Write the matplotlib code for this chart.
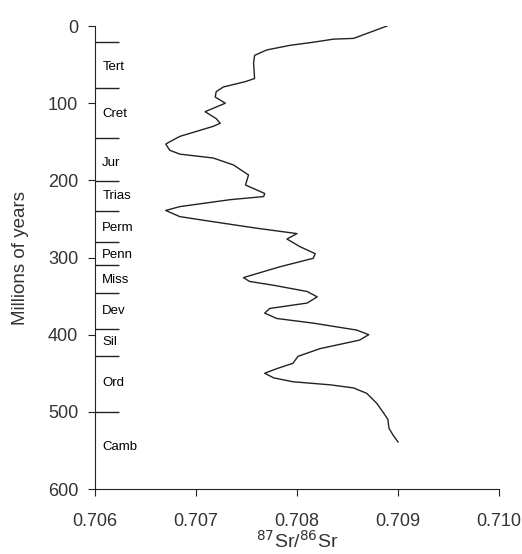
import numpy as np
import matplotlib.pyplot as plt

plt.rcParams['font.family'] = ['Liberation Sans', 'DejaVu Sans']

# Sr isotope curve (ratio, age in Ma)
sr_ratio = [0.70889, 0.70856, 0.70836, 0.70816, 0.70793, 0.70770, 0.70758, 0.70757,
            0.70758, 0.70749, 0.70727, 0.70720, 0.70719, 0.70729, 0.70709, 0.70720,
            0.70724, 0.70717, 0.70684, 0.70674, 0.70670, 0.70674, 0.70684, 0.70717,
            0.70737, 0.70752, 0.70749, 0.70768, 0.70767, 0.70734, 0.70684, 0.70670,
            0.70684, 0.70714, 0.70760, 0.70800, 0.70790, 0.70803, 0.70818, 0.70816,
            0.70783, 0.70747, 0.70753, 0.70777, 0.70810, 0.70820, 0.70810, 0.70773,
            0.70768, 0.70780, 0.70816, 0.70859, 0.70871, 0.70862, 0.70823, 0.70801,
            0.70796, 0.70780, 0.70768, 0.70777, 0.70796, 0.70833, 0.70856, 0.70869,
            0.70879, 0.70886, 0.70890, 0.70891, 0.70895, 0.70900]
age = [0, 16, 17, 21, 25, 31, 38, 48,
       68, 72, 79, 85, 92, 100, 111, 120,
       126, 130, 143, 150, 153, 161, 166, 171,
       180, 193, 206, 217, 221, 225, 234, 239,
       247, 253, 262, 269, 276, 286, 295, 301,
       312, 326, 331, 336, 344, 351, 359, 366,
       372, 379, 385, 394, 400, 407, 418, 428,
       437, 444, 450, 456, 461, 465, 469, 476,
       489, 502, 510, 521, 530, 539]

# geological periods
boundaries = [21, 80, 145, 201, 240, 280, 310, 346, 392, 428, 500]
periods = ['Tert', 'Cret', 'Jur', 'Trias', 'Perm', 'Penn', 'Miss', 'Dev', 'Sil', 'Ord', 'Camb']
period_mid = [53, 114, 177, 220, 262, 297, 329, 369, 409, 463, 545]

fig = plt.figure(figsize=(5.22, 5.54), dpi=100)
ax = fig.add_axes([0.182, 0.1173, 0.774, 0.8357])

ax.plot(sr_ratio, age, color='#222222', lw=1.0)

ytr = ax.get_yaxis_transform()
ax.hlines(boundaries, 0, 0.06, transform=ytr, color='#222222', lw=1.0)
for name, m in zip(periods, period_mid):
    ax.text(0.018, m, name, transform=ytr, fontsize=9.5, va='center', ha='left')

ax.set_xlim(0.706, 0.710)
ax.set_ylim(600, 0)
ax.set_xticks([0.706, 0.707, 0.708, 0.709, 0.710])
ax.set_xticklabels(['0.706', '0.707', '0.708', '0.709', '0.710'])
ax.set_yticks([0, 100, 200, 300, 400, 500, 600])

for s in ['top', 'right']:
    ax.spines[s].set_visible(False)
for s in ['left', 'bottom']:
    ax.spines[s].set_color('#222222')
ax.tick_params(labelsize=13, length=5, color='#222222', labelcolor='#333333')
ax.tick_params(axis='y', pad=7)
ax.tick_params(axis='x', pad=12)

ax.set_ylabel('Millions of years', fontsize=13.5, color='#333333', labelpad=14)
ax.set_xlabel(r'$^{87}$Sr/$^{86}$Sr', fontsize=14, color='#333333', labelpad=0)

fig.savefig('out.png', dpi=100)
